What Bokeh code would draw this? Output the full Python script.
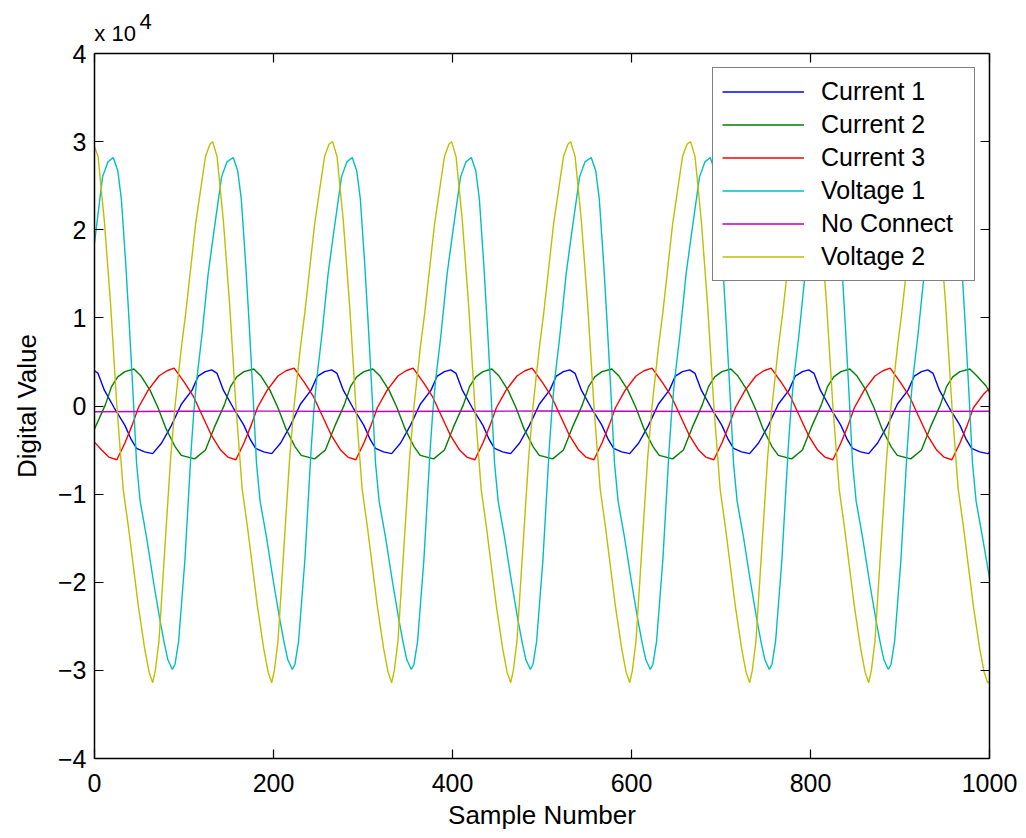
from bokeh.plotting import figure
from bokeh.models import Range1d, LinearAxis, FixedTicker
from bokeh.embed import file_html
from bokeh.resources import INLINE

# ---------------- data ----------------
series_names = ["Current 1", "Current 2", "Current 3", "Voltage 1", "No Connect", "Voltage 2"]

x_ticks = [0, 200, 400, 600, 800, 1000]
y_ticks = [-40000, -30000, -20000, -10000, 0, 10000, 20000, 30000, 40000]
y_tick_labels = ["\u22124", "\u22123", "\u22122", "\u22121", "0", "1", "2", "3", "4"]
exponent_text = ["x 10", "4"]          # the "x 10^4" multiplier shown above the y axis
exponent_anchor = [23, 57]             # where those two texts sit along the top edge

current1_x = [0, 4, 11, 22, 34, 41, 47, 56, 65, 75, 86, 97, 109, 116, 124,
              131, 137, 144, 155, 167, 174, 180, 189, 198, 208, 219, 230, 242, 249, 257,
              265, 271, 278, 289, 301, 308, 314, 323, 332, 342, 353, 364, 376, 383, 391,
              398, 404, 411, 422, 434, 441, 447, 456, 465, 475, 486, 497, 509, 516, 524,
              531, 537, 544, 555, 567, 574, 580, 589, 598, 608, 619, 630, 642, 649, 657,
              665, 671, 678, 689, 701, 708, 714, 723, 732, 742, 753, 764, 776, 783, 791,
              798, 804, 811, 822, 834, 841, 847, 856, 865, 875, 886, 897, 909, 916, 924,
              931, 937, 944, 955, 967, 974, 980, 989, 998, 1000]
current1_y = [4000, 3700, 1800, -200, -2200, -3800, -4800, -5200, -5400, -4200, -2200, 200, 1800, 3400, 3900,
              4100, 3700, 1800, -200, -2200, -3800, -4800, -5200, -5400, -4200, -2200, 200, 1800, 3400, 3900,
              4100, 3700, 1800, -200, -2200, -3800, -4800, -5200, -5400, -4200, -2200, 200, 1800, 3400, 3900,
              4100, 3700, 1800, -200, -2200, -3800, -4800, -5200, -5400, -4200, -2200, 200, 1800, 3400, 3900,
              4100, 3700, 1800, -200, -2200, -3800, -4800, -5200, -5400, -4200, -2200, 200, 1800, 3400, 3900,
              4100, 3700, 1800, -200, -2200, -3800, -4800, -5200, -5400, -4200, -2200, 200, 1800, 3400, 3900,
              4100, 3700, 1800, -200, -2200, -3800, -4800, -5200, -5400, -4200, -2200, 200, 1800, 3400, 3900,
              4100, 3700, 1800, -200, -2200, -3800, -4800, -5200, -5400, -5300]

current2_x = [0, 12, 19, 26, 34,
              44, 52, 62, 71, 80, 90, 97, 112, 124, 134, 145, 152, 159, 167,
              178, 186, 196, 205, 214, 224, 231, 246, 258, 268, 279, 286, 293, 301,
              311, 319, 329, 338, 347, 357, 364, 379, 391, 401, 412, 419, 426, 434,
              444, 452, 462, 471, 480, 490, 497, 512, 524, 534, 545, 552, 559, 567,
              578, 586, 596, 605, 614, 624, 631, 646, 658, 668, 679, 686, 693, 701,
              711, 719, 729, 738, 747, 757, 764, 779, 791, 801, 812, 819, 826, 834,
              844, 852, 862, 871, 880, 890, 897, 912, 924, 934, 945, 952, 959, 967,
              978, 986, 996, 1000]
current2_y = [-2600, 100, 2200, 3300, 3900,
              4200, 3400, 1800, -200, -2600, -4600, -5600, -6000, -5000, -2400, 100, 2200, 3300, 3900,
              4200, 3400, 1800, -200, -2600, -4600, -5600, -6000, -5000, -2400, 100, 2200, 3300, 3900,
              4200, 3400, 1800, -200, -2600, -4600, -5600, -6000, -5000, -2400, 100, 2200, 3300, 3900,
              4200, 3400, 1800, -200, -2600, -4600, -5600, -6000, -5000, -2400, 100, 2200, 3300, 3900,
              4200, 3400, 1800, -200, -2600, -4600, -5600, -6000, -5000, -2400, 100, 2200, 3300, 3900,
              4200, 3400, 1800, -200, -2600, -4600, -5600, -6000, -5000, -2400, 100, 2200, 3300, 3900,
              4200, 3400, 1800, -200, -2600, -4600, -5600, -6000, -5000, -2400, 100, 2200, 3300, 3900,
              4200, 3400, 2300, 1600]

current3_x = [0, 8, 16, 25, 34, 42, 49, 60, 72, 81,
              89, 101, 111, 120, 131, 141, 149, 158, 167, 175, 182, 193, 205, 214,
              223, 235, 245, 254, 265, 275, 283, 292, 301, 309, 316, 327, 339, 348,
              356, 368, 378, 387, 398, 408, 416, 425, 434, 442, 449, 460, 472, 481,
              489, 501, 511, 520, 531, 541, 549, 558, 567, 575, 582, 593, 605, 614,
              623, 635, 645, 654, 665, 675, 683, 692, 701, 709, 716, 727, 739, 748,
              756, 768, 778, 787, 798, 808, 816, 825, 834, 842, 849, 860, 872, 881,
              889, 901, 911, 920, 931, 941, 949, 958, 967, 975, 982, 993, 1000]
current3_y = [-4100, -5000, -5800, -6100, -4200, -2200, -200, 1800, 3400, 4000,
              4300, 2600, 1000, -1000, -3400, -5000, -5800, -6100, -4200, -2200, -200, 1800, 3400, 4000,
              4300, 2600, 1000, -1000, -3400, -5000, -5800, -6100, -4200, -2200, -200, 1800, 3400, 4000,
              4300, 2600, 1000, -1000, -3400, -5000, -5800, -6100, -4200, -2200, -200, 1800, 3400, 4000,
              4300, 2600, 1000, -1000, -3400, -5000, -5800, -6100, -4200, -2200, -200, 1800, 3400, 4000,
              4300, 2600, 1000, -1000, -3400, -5000, -5800, -6100, -4200, -2200, -200, 1800, 3400, 4000,
              4300, 2600, 1000, -1000, -3400, -5000, -5800, -6100, -4200, -2200, -200, 1800, 3400, 4000,
              4300, 2600, 1000, -1000, -3400, -5000, -5800, -6100, -4200, -2200, -200, 1300, 2000]

voltage1_x = [0, 9, 15,
              21, 26, 30, 35, 39, 43, 47, 51, 58, 66, 73, 78, 82, 87, 90, 94, 101, 108, 111, 114, 120, 127, 133, 142, 148,
              155, 160, 164, 169, 173, 177, 181, 185, 192, 200, 207, 212, 216, 221, 224, 228, 235, 242, 245, 248, 254, 261, 267, 276, 282,
              288, 293, 297, 302, 306, 310, 314, 318, 325, 333, 340, 345, 349, 354, 357, 361, 368, 375, 378, 381, 387, 394, 400, 409, 415,
              421, 426, 430, 435, 439, 443, 447, 451, 458, 466, 473, 478, 482, 487, 490, 494, 501, 508, 511, 514, 520, 527, 533, 542, 548,
              555, 560, 564, 569, 573, 577, 581, 585, 592, 600, 607, 612, 616, 621, 624, 628, 635, 642, 645, 648, 654, 661, 667, 676, 682,
              688, 693, 697, 702, 706, 710, 714, 718, 725, 733, 740, 745, 749, 754, 757, 761, 768, 775, 778, 781, 787, 794, 800, 809, 815,
              821, 826, 830, 835, 839, 843, 847, 851, 858, 866, 873, 878, 882, 887, 890, 894, 901, 908, 911, 914, 920, 927, 933, 942, 948,
              955, 960, 964, 969, 973, 977, 981, 985, 992, 1000]
voltage1_y = [18500, 26000, 27700,
              28200, 26700, 23500, 16000, 9000, 1500, -6500, -10800, -14800, -20000, -24200, -26900, -28800, -29900, -29300, -26700, -17500, -5000, -600, 2800, 8000, 15000, 19500, 26000, 27700,
              28200, 26700, 23500, 16000, 9000, 1500, -6500, -10800, -14800, -20000, -24200, -26900, -28800, -29900, -29300, -26700, -17500, -5000, -600, 2800, 8000, 15000, 19500, 26000, 27700,
              28200, 26700, 23500, 16000, 9000, 1500, -6500, -10800, -14800, -20000, -24200, -26900, -28800, -29900, -29300, -26700, -17500, -5000, -600, 2800, 8000, 15000, 19500, 26000, 27700,
              28200, 26700, 23500, 16000, 9000, 1500, -6500, -10800, -14800, -20000, -24200, -26900, -28800, -29900, -29300, -26700, -17500, -5000, -600, 2800, 8000, 15000, 19500, 26000, 27700,
              28200, 26700, 23500, 16000, 9000, 1500, -6500, -10800, -14800, -20000, -24200, -26900, -28800, -29900, -29300, -26700, -17500, -5000, -600, 2800, 8000, 15000, 19500, 26000, 27700,
              28200, 26700, 23500, 16000, 9000, 1500, -6500, -10800, -14800, -20000, -24200, -26900, -28800, -29900, -29300, -26700, -17500, -5000, -600, 2800, 8000, 15000, 19500, 26000, 27700,
              28200, 26700, 23500, 16000, 9000, 1500, -6500, -10800, -14800, -20000, -24200, -26900, -28800, -29900, -29300, -26700, -17500, -5000, -600, 2800, 8000, 15000, 19500, 26000, 27700,
              28200, 26700, 23500, 16000, 9000, 1500, -6500, -10800, -14800, -19500]

noconnect_x = [0, 100, 200, 300, 400, 500, 600, 700, 800, 900, 1000]
noconnect_y = [-650, -600, -580, -620, -600, -570, -600, -620, -590, -610, -600]

voltage2_x = [0, 4, 11, 18, 25, 32, 38, 49, 56, 61, 65, 68, 72, 79, 85, 90, 97, 102, 113, 124, 129,
              132, 137, 144, 151, 158, 165, 171, 182, 189, 194, 198, 201, 205, 212, 218, 223, 230, 235, 246, 257, 262,
              266, 271, 278, 285, 292, 299, 305, 316, 323, 328, 332, 335, 339, 346, 352, 357, 364, 369, 380, 391, 396,
              399, 404, 411, 418, 425, 432, 438, 449, 456, 461, 465, 468, 472, 479, 485, 490, 497, 502, 513, 524, 529,
              532, 537, 544, 551, 558, 565, 571, 582, 589, 594, 598, 601, 605, 612, 618, 623, 630, 635, 646, 657, 662,
              666, 671, 678, 685, 692, 699, 705, 716, 723, 728, 732, 735, 739, 746, 752, 757, 764, 769, 780, 791, 796,
              799, 804, 811, 818, 825, 832, 838, 849, 856, 861, 865, 868, 872, 879, 885, 890, 897, 902, 913, 924, 929,
              932, 937, 944, 951, 958, 965, 971, 982, 989, 994, 998, 1000]
voltage2_y = [29400, 28300, 21000, 11500, 0, -9400, -13800, -22700, -27500, -30200, -31400, -30000, -26700, -15500, -6000, 0, 6600, 10600, 20700, 28300, 29700,
              30000, 28300, 21000, 11500, 0, -9400, -13800, -22700, -27500, -30200, -31400, -30000, -26700, -15500, -6000, 0, 6600, 10600, 20700, 28300, 29700,
              30000, 28300, 21000, 11500, 0, -9400, -13800, -22700, -27500, -30200, -31400, -30000, -26700, -15500, -6000, 0, 6600, 10600, 20700, 28300, 29700,
              30000, 28300, 21000, 11500, 0, -9400, -13800, -22700, -27500, -30200, -31400, -30000, -26700, -15500, -6000, 0, 6600, 10600, 20700, 28300, 29700,
              30000, 28300, 21000, 11500, 0, -9400, -13800, -22700, -27500, -30200, -31400, -30000, -26700, -15500, -6000, 0, 6600, 10600, 20700, 28300, 29700,
              30000, 28300, 21000, 11500, 0, -9400, -13800, -22700, -27500, -30200, -31400, -30000, -26700, -15500, -6000, 0, 6600, 10600, 20700, 28300, 29700,
              30000, 28300, 21000, 11500, 0, -9400, -13800, -22700, -27500, -30200, -31400, -30000, -26700, -15500, -6000, 0, 6600, 10600, 20700, 28300, 29700,
              30000, 28300, 21000, 11500, 0, -9400, -13800, -22700, -27500, -30200, -31400, -31300]

colors = ["#0000ff", "#008000", "#ff0000", "#00bfbf", "#bf00bf", "#bfbf00"]
series = [(current1_x, current1_y), (current2_x, current2_y), (current3_x, current3_y),
          (voltage1_x, voltage1_y), (noconnect_x, noconnect_y), (voltage2_x, voltage2_y)]

# ---------------- figure ----------------
FONT = "Liberation Sans"

p = figure(width=1026, height=838, output_backend="svg", toolbar_location=None,
           x_range=Range1d(0, 1000), y_range=Range1d(-40000, 40000),
           min_border_left=94, min_border_right=37, min_border_top=53, min_border_bottom=80,
           background_fill_color="white", border_fill_color="white")
p.outline_line_color = None
p.grid.visible = False

for (xs, ys), name, c in zip(series, series_names, colors):
    p.line(xs, ys, line_color=c, line_width=1.4, legend_label=name)

xt = FixedTicker(ticks=x_ticks)
yt = FixedTicker(ticks=y_ticks)
overrides = {t: lab for t, lab in zip(y_ticks, y_tick_labels)}

main_x = p.xaxis[0]
main_y = p.yaxis[0]
main_x.ticker = xt
main_x.axis_label = "Sample Number"
main_x.major_label_standoff = 15
main_x.axis_label_standoff = 5
main_y.ticker = yt
main_y.major_label_overrides = overrides
main_y.axis_label = "Digital Value"
main_y.major_label_standoff = 8
main_y.axis_label_standoff = 13

top_ax = LinearAxis(ticker=xt)
right_ax = LinearAxis(ticker=yt)
p.add_layout(top_ax, "above")
p.add_layout(right_ax, "right")

for ax in [main_x, main_y, top_ax, right_ax]:
    ax.axis_line_color = "black"
    ax.axis_line_width = 1.5
    ax.major_tick_line_color = "black"
    ax.major_tick_line_width = 1.2
    ax.major_tick_in = 9
    ax.major_tick_out = 0
    ax.minor_tick_line_color = None
    ax.major_label_text_font = FONT
    ax.major_label_text_font_size = "25px"
    ax.major_label_text_color = "black"
    ax.axis_label_text_font = FONT
    ax.axis_label_text_font_style = "normal"
    ax.axis_label_text_font_size = "26px"
    ax.axis_label_text_color = "black"
# the box sides carry ticks only
for ax in [top_ax, right_ax]:
    ax.major_label_text_color = None
    ax.major_label_text_font_size = "1px"
    ax.major_label_standoff = 0

# exponent "x 10^4": two label-only axes stacked above the box
exp_standoff = [8, -11]
for txt, pos, so in zip(exponent_text, exponent_anchor, exp_standoff):
    ea = LinearAxis(ticker=FixedTicker(ticks=[pos]), major_label_overrides={pos: txt})
    ea.axis_line_color = None
    ea.major_tick_line_color = None
    ea.minor_tick_line_color = None
    ea.major_tick_in = 0
    ea.major_tick_out = 0
    ea.major_label_standoff = so
    ea.major_label_text_font = FONT
    ea.major_label_text_font_size = "22px"
    ea.major_label_text_color = "black"
    p.add_layout(ea, "above")

lg = p.legend[0]
lg.location = "top_right"
lg.margin = 14
lg.padding = 9
lg.spacing = 4
lg.glyph_width = 82
lg.glyph_height = 29
lg.label_height = 29
lg.label_width = 144
lg.label_standoff = 17
lg.label_text_font = FONT
lg.label_text_font_size = "25px"
lg.label_text_color = "black"
lg.border_line_color = "black"
lg.border_line_width = 1.2
lg.background_fill_color = "white"
lg.background_fill_alpha = 1.0

open("out.html", "w").write(file_html(p, INLINE))
